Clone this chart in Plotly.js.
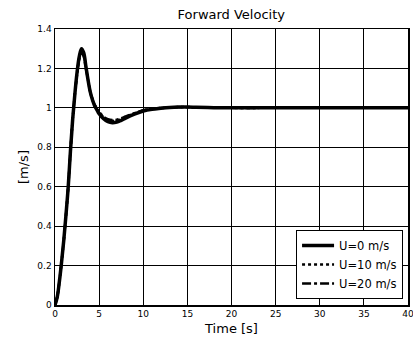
<!DOCTYPE html>
<html>
<head>
<meta charset="utf-8">
<script src="https://cdn.plot.ly/plotly-3.0.1.min.js"></script>
<style>html,body{margin:0;padding:0;background:#fff;}#chart{width:413px;height:342px;}</style>
</head>
<body>
<div id="chart"></div>
<script>
const time = [0,0.25,0.5,0.75,1,1.25,1.5,1.75,2,2.25,2.5,2.75,3,3.25,3.5,3.75,4,4.25,4.5,4.75,5,5.5,6,6.5,7,7.5,8,9,10,11,12,13,14,15,16,18,20,25,30,35,40];
const u0  = [0,0.04,0.12,0.22,0.33,0.46,0.60,0.78,0.94,1.07,1.18,1.26,1.30,1.28,1.21,1.14,1.08,1.04,1.01,0.99,0.97,0.945,0.93,0.925,0.928,0.937,0.948,0.968,0.984,0.993,0.998,1.002,1.004,1.004,1.003,1.001,1.0,1.0,1.0,1.0,1.0];
const u10 = [0,0.04,0.12,0.22,0.33,0.46,0.60,0.78,0.94,1.07,1.17,1.25,1.29,1.27,1.21,1.14,1.08,1.04,1.015,0.995,0.978,0.952,0.938,0.934,0.936,0.944,0.954,0.972,0.987,0.995,0.999,1.002,1.004,1.004,1.003,1.001,1.0,1.0,1.0,1.0,1.0];
const u20 = [0,0.04,0.12,0.22,0.33,0.46,0.60,0.78,0.94,1.07,1.17,1.25,1.28,1.26,1.20,1.14,1.08,1.045,1.015,0.995,0.98,0.955,0.942,0.938,0.94,0.947,0.956,0.973,0.988,0.995,0.999,1.002,1.003,1.003,1.002,1.001,1.0,1.0,1.0,1.0,1.0];
const names = ['U=0 m/s','U=10 m/s','U=20 m/s'];
const xTicks = [0,5,10,15,20,25,30,35,40];
const yTicks = [0,0.2,0.4,0.6,0.8,1,1.2,1.4];

const traces = [
  {x: time, y: u0, name: names[0], mode: 'lines', line: {color: '#000', width: 3.5, shape: 'spline'}},
  {x: time, y: u10, name: names[1], mode: 'lines', line: {color: '#000', width: 2.5, dash: 'dot', shape: 'spline'}},
  {x: time, y: u20, name: names[2], mode: 'lines', line: {color: '#000', width: 2.5, dash: 'dashdot', shape: 'spline'}}
];

const layout = {
  width: 413, height: 342,
  margin: {l: 55, r: 5, t: 29, b: 37},
  paper_bgcolor: '#fff', plot_bgcolor: '#fff',
  font: {family: 'DejaVu Sans, Liberation Sans, sans-serif', color: '#000', size: 9},
  title: {text: 'Forward Velocity', font: {size: 13, color: '#000'}, x: 0.56, xanchor: 'center', y: 0.958, yanchor: 'middle'},
  xaxis: {
    range: [0, 40], tickvals: xTicks, ticktext: xTicks.map(String),
    showgrid: true, gridcolor: '#000', gridwidth: 1, zeroline: false,
    showline: true, linecolor: '#000', linewidth: 1.5, mirror: true,
    ticks: 'inside', ticklen: 4, tickcolor: '#000',
    ticklabeloverflow: 'allow',
    tickfont: {size: 9},
    title: {text: 'Time [s]', font: {size: 13}, standoff: 5}
  },
  yaxis: {
    range: [0, 1.4], tickvals: yTicks, ticktext: yTicks.map(String),
    showgrid: true, gridcolor: '#000', gridwidth: 1, zeroline: false,
    showline: true, linecolor: '#000', linewidth: 1.5, mirror: true,
    ticks: 'inside', ticklen: 4, tickcolor: '#000',
    tickfont: {size: 9},
    title: {text: '[m/s]', font: {size: 13}, standoff: 6}
  },
  showlegend: true,
  legend: {
    x: 0.986, xanchor: 'right', y: 0.022, yanchor: 'bottom',
    bgcolor: '#fff', bordercolor: '#000', borderwidth: 1,
    font: {size: 11.5, color: '#000'},
    tracegroupgap: 0, itemwidth: 32
  }
};

Plotly.newPlot('chart', traces, layout, {displayModeBar: false, staticPlot: true});
</script>
</body>
</html>
